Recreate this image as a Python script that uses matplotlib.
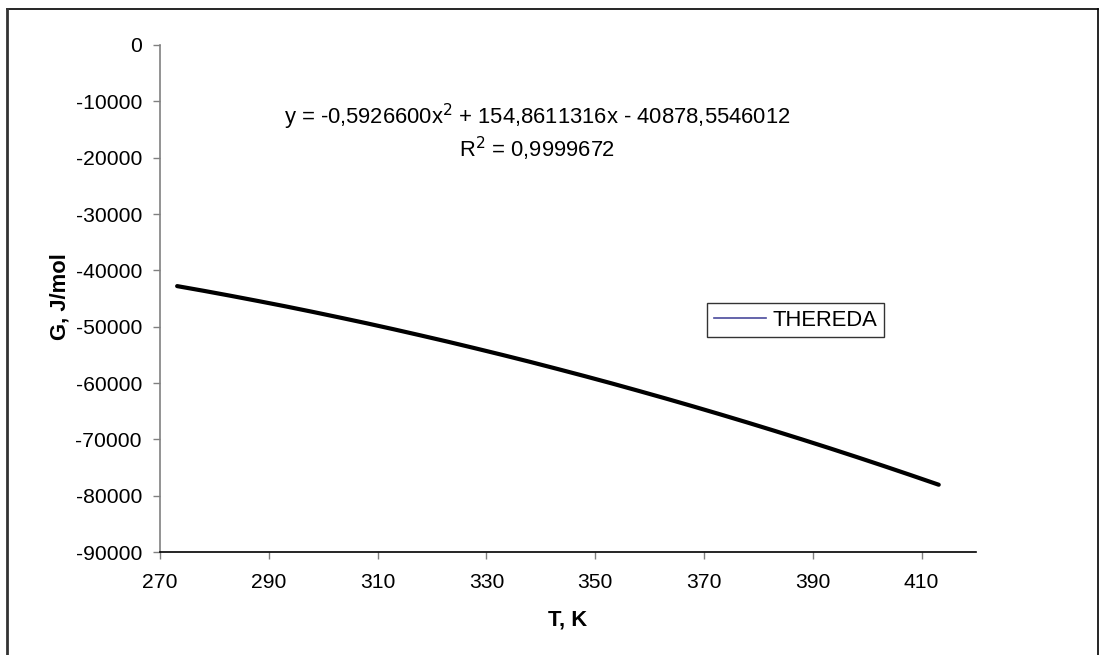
import matplotlib
matplotlib.use("Agg")
import matplotlib.pyplot as plt
from matplotlib.lines import Line2D

plt.rcParams['font.family'] = ['Liberation Sans', 'DejaVu Sans']

# Data (T in K, G in J/mol)
temperature = [273.15, 278, 283, 288, 293, 298, 303, 308, 313, 318, 323, 328,
               333, 338, 343, 348, 353, 358, 363, 368, 373, 378, 383, 388,
               393, 398, 403, 408, 413.15]
gibbs = [-42800, -43630, -44520, -45440, -46380, -47360, -48370, -49400,
         -50470, -51570, -52690, -53850, -55030, -56240, -57490, -58760,
         -60060, -61400, -62760, -64150, -65570, -67020, -68500, -70010,
         -71550, -73120, -74720, -76350, -78060]
series_name = "THEREDA"
x_ticks = [270, 290, 310, 330, 350, 370, 390, 410]
y_ticks = [0, -10000, -20000, -30000, -40000, -50000, -60000, -70000, -80000, -90000]
eq_text = "y = -0,5926600x$^2$ + 154,8611316x - 40878,5546012"
r2_text = "R$^2$ = 0,9999672"

W, H = 1104, 655
FS = 15.8
TFS = 15.2
fig = plt.figure(figsize=(W / 100, H / 100), dpi=100)
ax = fig.add_axes([160 / W, 1 - 552 / H, (976 - 160) / W, (552 - 45) / H])

ax.plot(temperature, gibbs, color='black', lw=3.0, solid_capstyle='round',
        solid_joinstyle='round')

ax.set_xlim(270, 420)
ax.set_ylim(-90000, 0)
ax.set_xticks(x_ticks)
ax.set_yticks(y_ticks)
ax.set_xticklabels([str(v) for v in x_ticks])
ax.set_yticklabels([str(v) for v in y_ticks])
ax.tick_params(axis='both', direction='out', length=5, width=1, colors='#808080',
               labelcolor='black', labelsize=TFS)
ax.tick_params(axis='y', pad=8)
ax.tick_params(axis='x', pad=10)
for s in ['top', 'right']:
    ax.spines[s].set_visible(False)
ax.spines['left'].set_color('#808080')
ax.spines['bottom'].set_color('black')
ax.spines['left'].set_linewidth(1.2)
ax.spines['bottom'].set_linewidth(1.2)

ax.set_xlabel("T, K", fontsize=FS, fontweight='bold')
ax.set_ylabel("G, J/mol", fontsize=FS, fontweight='bold')
ax.xaxis.set_label_coords((568 - 160) / (976 - 160), -(620 - 552) / (552 - 45))
ax.yaxis.set_label_coords(-(160 - 60) / (976 - 160), (552 - 297) / (552 - 45))
ax.xaxis.label.set_va('center')
ax.yaxis.label.set_va('center')

fig.text(537 / W, 1 - 117 / H, eq_text, fontsize=FS, ha='center', va='center')
fig.text(537 / W, 1 - 149 / H, r2_text, fontsize=FS, ha='center', va='center')

handle = Line2D([], [], color='#4a4a9c', lw=1.2)
leg = ax.legend([handle], [series_name], loc='upper left',
                bbox_to_anchor=((707 - 160) / (976 - 160), 1 - (303 - 45) / (552 - 45)),
                frameon=True, fancybox=False, fontsize=FS, handlelength=2.4,
                handletextpad=0.3, borderpad=0.3, borderaxespad=0)
leg.get_frame().set_edgecolor('black')
leg.get_frame().set_linewidth(1.0)

# outer chart border
fig.add_artist(Line2D([7 / W, 1098 / W], [1 - 9 / H, 1 - 9 / H], color='black', lw=1.2,
                      transform=fig.transFigure))
fig.add_artist(Line2D([7 / W, 7 / W], [1 - 9 / H, 0], color='#333333', lw=2,
                      transform=fig.transFigure))
fig.add_artist(Line2D([1098 / W, 1098 / W], [1 - 9 / H, 0], color='black', lw=1.2,
                      transform=fig.transFigure))

fig.savefig("out.png", dpi=100)
